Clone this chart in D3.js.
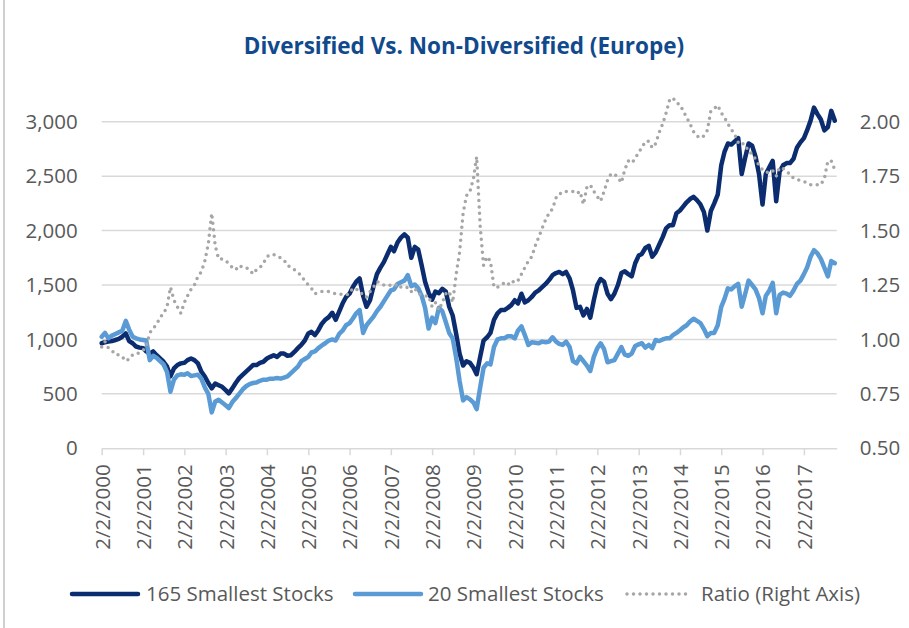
<!DOCTYPE html>
<html>
<head>
<meta charset="utf-8">
<script src="https://cdn.jsdelivr.net/npm/d3@7"></script>
<style>
  body { margin: 0; background: #fff; }
  text { font-family: "Open Sans", sans-serif; fill: #595959; }
</style>
</head>
<body>
<div id="chart"></div>
<script>
// monthly readings, first point 2/2/2000
var startDate = new Date(2000, 1, 2);
var seriesNames = ["165 Smallest Stocks", "20 Smallest Stocks", "Ratio (Right Axis)"];

var smallest165 = [
  965, 975, 980, 985, 995, 1005, 1025, 1055, 985, 965, 935, 925,
  920, 890, 870, 890, 855, 825, 795, 750, 660, 735, 765, 780,
  785, 810, 825, 810, 780, 705, 660, 600, 550, 595, 580, 565,
  535, 505, 550, 600, 645, 675, 705, 735, 765, 765, 785, 795,
  825, 840, 855, 840, 870, 870, 850, 855, 885, 920, 950, 990,
  1055, 1070, 1040, 1085, 1145, 1180, 1205, 1245, 1180, 1255, 1330, 1390,
  1420, 1480, 1530, 1560, 1400, 1300, 1360, 1490, 1600, 1660, 1710, 1780,
  1850, 1810, 1890, 1935, 1965, 1935, 1750, 1850, 1825, 1680, 1530, 1430,
  1365, 1440, 1425, 1465, 1440, 1300, 1220, 1050, 870, 760, 800, 785,
  740, 680, 840, 990, 1020, 1060, 1180, 1240, 1270, 1270, 1290, 1315,
  1360, 1330, 1420, 1340, 1360, 1390, 1430, 1450, 1480, 1510, 1545, 1590,
  1610, 1620, 1600, 1620, 1560, 1450, 1290, 1300, 1220, 1280, 1200, 1360,
  1500, 1555, 1530, 1420, 1370, 1420, 1500, 1610, 1625, 1600, 1580, 1700,
  1770, 1785, 1840, 1860, 1760, 1800, 1870, 1940, 2020, 2050, 2050, 2160,
  2185, 2220, 2260, 2290, 2310, 2280, 2240, 2170, 2000, 2180, 2250, 2330,
  2600, 2720, 2800, 2790, 2820, 2850, 2520, 2670, 2800, 2780, 2680, 2520,
  2240, 2520, 2580, 2640, 2270, 2540, 2600, 2620, 2620, 2660, 2760, 2810,
  2850, 2920, 3010, 3130, 3070, 3020, 2920, 2950, 3100, 3010
];

var smallest20 = [
  1025, 1060, 1010, 1035, 1050, 1065, 1080, 1170, 1090, 1025, 1010, 1000,
  995, 990, 810, 850, 830, 800, 770, 700, 520, 630, 670, 680,
  675, 690, 665, 670, 675, 640, 560, 500, 330, 430, 445, 420,
  395, 370, 425, 460, 500, 540, 570, 590, 600, 605, 620, 630,
  630, 640, 640, 645, 640, 650, 660, 690, 720, 750, 800, 820,
  840, 880, 890, 920, 945, 965, 990, 1000, 990, 1050, 1080, 1130,
  1150, 1190, 1240, 1270, 1060, 1130, 1170, 1210, 1260, 1300, 1350, 1400,
  1450, 1460, 1510, 1525, 1540, 1590, 1490, 1505, 1470, 1400, 1290, 1100,
  1200, 1150, 1290, 1260, 1160, 1060, 1010, 830, 620, 440, 470, 450,
  420, 360, 560, 740, 780, 770, 930, 1000, 1010, 1010, 1030, 1030,
  1010, 1080, 1120, 1040, 950, 975, 970, 965, 980, 975, 980, 1020,
  980, 960, 950, 980, 930, 800, 780, 840, 800, 760, 710, 840,
  920, 965, 910, 790, 800, 810, 870, 930, 860, 850, 870, 940,
  955, 965, 925, 950, 920, 995, 985, 1000, 1010, 1010, 1040, 1060,
  1085, 1110, 1130, 1165, 1190, 1170, 1150, 1095, 1030, 1060, 1060, 1130,
  1300, 1370, 1470, 1460, 1490, 1510, 1300, 1420, 1540, 1500, 1460, 1380,
  1240, 1400, 1450, 1520, 1240, 1410, 1430, 1420, 1400, 1450, 1510, 1540,
  1600, 1660, 1760, 1820, 1790, 1740, 1660, 1580, 1720, 1700
];

var ratio = [
  0.965, 0.99, 0.96, 0.95, 0.93, 0.93, 0.92, 0.90, 0.91, 0.93, 0.93, 0.94,
  0.95, 0.97, 1.03, 1.05, 1.07, 1.10, 1.12, 1.15, 1.24, 1.18, 1.15, 1.12,
  1.17, 1.20, 1.23, 1.25, 1.29, 1.31, 1.36, 1.44, 1.58, 1.43, 1.37, 1.37,
  1.36, 1.35, 1.33, 1.32, 1.34, 1.33, 1.33, 1.32, 1.30, 1.32, 1.33, 1.35,
  1.38, 1.39, 1.39, 1.38, 1.375, 1.365, 1.34, 1.33, 1.32, 1.31, 1.29, 1.27,
  1.25, 1.235, 1.21, 1.215, 1.22, 1.22, 1.22, 1.215, 1.21, 1.21, 1.205, 1.205,
  1.21, 1.235, 1.23, 1.225, 1.20, 1.195, 1.22, 1.24, 1.265, 1.26, 1.25, 1.245,
  1.25, 1.245, 1.255, 1.24, 1.235, 1.24, 1.22, 1.235, 1.21, 1.205, 1.20, 1.20,
  1.15, 1.17, 1.135, 1.17, 1.21, 1.22, 1.17, 1.30, 1.40, 1.58, 1.66, 1.68,
  1.74, 1.84, 1.52, 1.34, 1.38, 1.36, 1.24, 1.24, 1.25, 1.26, 1.25, 1.27,
  1.26, 1.27, 1.30, 1.33, 1.36, 1.38, 1.43, 1.47, 1.51, 1.55, 1.58, 1.60,
  1.65, 1.67, 1.67, 1.68, 1.68, 1.68, 1.67, 1.68, 1.62, 1.70, 1.71, 1.68,
  1.656, 1.635, 1.68, 1.73, 1.76, 1.76, 1.745, 1.72, 1.78, 1.82, 1.81, 1.83,
  1.86, 1.88, 1.91, 1.91, 1.88, 1.90, 1.95, 1.99, 2.04, 2.10, 2.11, 2.085,
  2.08, 2.05, 2.02, 1.99, 1.955, 1.935, 1.925, 1.935, 1.96, 2.05, 2.06, 2.075,
  2.04, 2.02, 1.99, 1.965, 1.94, 1.905, 1.91, 1.88, 1.875, 1.845, 1.83, 1.80,
  1.78, 1.77, 1.765, 1.775, 1.75, 1.79, 1.785, 1.77, 1.76, 1.74, 1.735, 1.73,
  1.725, 1.72, 1.71, 1.71, 1.71, 1.71, 1.74, 1.82, 1.82, 1.78
];

var leftTicks = [0, 500, 1000, 1500, 2000, 2500, 3000];
var rightTicks = [0.50, 0.75, 1.00, 1.25, 1.50, 1.75, 2.00];
var tickYears = d3.range(2000, 2018);

var svgWidth = 909;
var svgHeight = 628;
var plot = { left: 101.7, right: 836.7, top: 94.5, bottom: 448.3 };

var svg = d3.select("#chart")
  .append("svg")
  .attr("width", svgWidth)
  .attr("height", svgHeight);

svg.append("rect").attr("width", svgWidth).attr("height", svgHeight).attr("fill", "#fff");

// chart frame edge
svg.append("line")
  .attr("x1", 4).attr("x2", 4).attr("y1", 0).attr("y2", svgHeight)
  .attr("stroke", "#bfbfbf").attr("stroke-width", 1.5);

var dates = smallest165.map((d, i) => d3.timeMonth.offset(startDate, i));

var x = d3.scaleTime()
  .domain([startDate, new Date(2017, 10, 19)])
  .range([plot.left, plot.right]);

var yLeft = d3.scaleLinear().domain([0, 3250]).range([plot.bottom, plot.top]);
var yRight = d3.scaleLinear().domain([0.5, 2.125]).range([plot.bottom, plot.top]);

// gridlines
svg.append("g")
  .selectAll("line")
  .data(leftTicks.slice(1))
  .enter()
  .append("line")
  .attr("x1", plot.left).attr("x2", plot.right)
  .attr("y1", d => yLeft(d)).attr("y2", d => yLeft(d))
  .attr("stroke", "#d9d9d9").attr("stroke-width", 1.5);

// x axis
var xAxis = d3.axisBottom(x)
  .tickValues(tickYears.map(y => new Date(y, 1, 2)))
  .tickFormat(d3.timeFormat("%-m/%-d/%Y"))
  .tickSize(7)
  .tickSizeOuter(0);

var gx = svg.append("g")
  .attr("transform", `translate(0, ${plot.bottom})`)
  .call(xAxis);
gx.select(".domain").attr("stroke", "#d9d9d9").attr("stroke-width", 1.5);
gx.selectAll(".tick line").attr("stroke", "#d9d9d9").attr("stroke-width", 1.5);
gx.selectAll(".tick text")
  .attr("transform", "rotate(-90)")
  .attr("x", -16)
  .attr("y", 0)
  .attr("dy", "0.36em")
  .style("text-anchor", "end")
  .style("font-size", "20.5px")
  .attr("fill", "#595959");

// left axis labels
var gl = svg.append("g")
  .attr("transform", `translate(${plot.left}, 0)`)
  .call(d3.axisLeft(yLeft).tickValues(leftTicks).tickFormat(d3.format(",")).tickSize(0).tickPadding(24));
gl.select(".domain").remove();
gl.selectAll("text").style("font-size", "20.5px").attr("fill", "#595959");

// right axis labels
var gr = svg.append("g")
  .attr("transform", `translate(${plot.right}, 0)`)
  .call(d3.axisRight(yRight).tickValues(rightTicks).tickFormat(d3.format(".2f")).tickSize(0).tickPadding(23));
gr.select(".domain").remove();
gr.selectAll("text").style("font-size", "20.5px").attr("fill", "#595959");

// lines
var lineLeft = d3.line()
  .x((d, i) => x(dates[i]))
  .y(d => yLeft(d));

var lineRight = d3.line()
  .x((d, i) => x(dates[i]))
  .y(d => yRight(d));

svg.append("path")
  .datum(smallest165)
  .attr("d", lineLeft)
  .attr("fill", "none")
  .attr("stroke", "#0b2d6f")
  .attr("stroke-width", 4.5)
  .attr("stroke-linejoin", "round")
  .attr("stroke-linecap", "round");

svg.append("path")
  .datum(smallest20)
  .attr("d", lineLeft)
  .attr("fill", "none")
  .attr("stroke", "#5b9bd5")
  .attr("stroke-width", 4.5)
  .attr("stroke-linejoin", "round")
  .attr("stroke-linecap", "round");

svg.append("path")
  .datum(ratio)
  .attr("d", lineRight)
  .attr("fill", "none")
  .attr("stroke", "#a6a6a6")
  .attr("stroke-width", 3.5)
  .attr("stroke-dasharray", "0 6.5")
  .attr("stroke-linecap", "round");

// title
svg.append("text")
  .attr("x", 464)
  .attr("y", 54)
  .attr("text-anchor", "middle")
  .style("font-size", "22.5px")
  .style("font-weight", "bold")
  .style("fill", "#114a8c")
  .text("Diversified Vs. Non-Diversified (Europe)");

// legend
var legendItems = [
  { x1: 72, x2: 138, tx: 146, color: "#0b2d6f", dash: null, w: 4.5 },
  { x1: 355, x2: 421, tx: 428, color: "#5b9bd5", dash: null, w: 4.5 },
  { x1: 627, x2: 691, tx: 701, color: "#a6a6a6", dash: "0 6.5", w: 3.5 }
];

var legend = svg.append("g").attr("transform", "translate(0, 594)");
legendItems.forEach(function(item, i) {
  legend.append("line")
    .attr("x1", item.x1).attr("x2", item.x2)
    .attr("stroke", item.color)
    .attr("stroke-width", item.w)
    .attr("stroke-dasharray", item.dash)
    .attr("stroke-linecap", "round");
  legend.append("text")
    .attr("x", item.tx)
    .attr("dy", "0.36em")
    .style("font-size", "20.5px")
    .text(seriesNames[i]);
});
</script>
</body>
</html>
